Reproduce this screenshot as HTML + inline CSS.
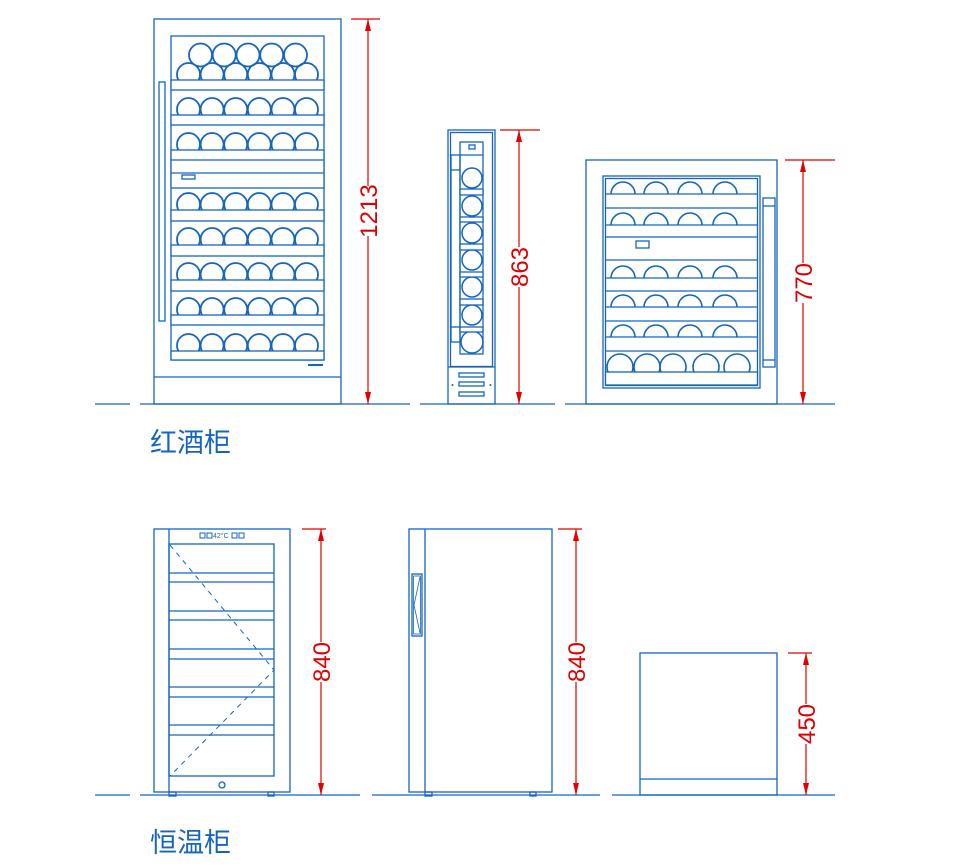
<!DOCTYPE html>
<html><head><meta charset="utf-8">
<style>
html,body{margin:0;padding:0;background:#fff;}
svg{display:block;}
.b{fill:none;stroke:#1565c0;stroke-width:1.3;}
.w{fill:#fff;stroke:#1565c0;stroke-width:1.3;}
.r{fill:none;stroke:#e00000;stroke-width:1.2;}
.a{fill:#e00000;}
.dt{fill:#e00000;font-family:"Liberation Sans",sans-serif;font-size:24px;}
.lb{fill:#1565c0;font-family:"Liberation Sans","Noto Sans CJK SC",sans-serif;font-size:27px;}
</style></head><body>
<svg width="953" height="868" viewBox="0 0 953 868" xmlns="http://www.w3.org/2000/svg">
<defs>
<g id="row6" class="b" style="stroke-width:1.8">
<circle cx="188.5" cy="0" r="11.5"/><circle cx="212.1" cy="0" r="11.5"/><circle cx="235.7" cy="0" r="11.5"/><circle cx="259.3" cy="0" r="11.5"/><circle cx="283" cy="0" r="11.5"/><circle cx="306.5" cy="0" r="11.5"/>
</g>
<g id="arch4" class="b" style="stroke-width:1.6">
<path d="M611 0 A12 12 0 0 1 635 0 M644 0 A12 12 0 0 1 668 0 M678 0 A12 12 0 0 1 702 0 M713 0 A12 12 0 0 1 737 0"/>
</g>
</defs>

<!-- ground lines -->
<g stroke="#1565c0" stroke-width="1.3">
<line x1="95" y1="404" x2="130" y2="404"/><line x1="140" y1="404" x2="410" y2="404"/><line x1="420" y1="404" x2="555" y2="404"/><line x1="565" y1="404" x2="835" y2="404"/>
<line x1="95" y1="795" x2="130" y2="795"/><line x1="140" y1="795" x2="360" y2="795"/><line x1="372" y1="795" x2="600" y2="795"/><line x1="612" y1="795" x2="835" y2="795"/>
</g>

<!-- fridge 1 -->
<rect x="154" y="19" width="187" height="385" class="b"/>
<line x1="154" y1="377" x2="341" y2="377" class="b"/>
<rect x="159" y="82" width="6" height="239" class="b"/>
<rect x="171" y="36" width="153" height="324" class="b"/>
<use href="#row6" transform="translate(0,74.5)"/>
<g class="b" style="stroke-width:1.8">
<circle cx="200.5" cy="55" r="11.5"/><circle cx="224.2" cy="55" r="11.5"/><circle cx="248" cy="55" r="11.5"/><circle cx="271.7" cy="55" r="11.5"/><circle cx="295.5" cy="55" r="11.5"/>
</g>
<use href="#row6" transform="translate(0,109.5)"/>
<use href="#row6" transform="translate(0,144.5)"/>
<use href="#row6" transform="translate(0,204.5)"/>
<use href="#row6" transform="translate(0,239.5)"/>
<use href="#row6" transform="translate(0,274.5)"/>
<use href="#row6" transform="translate(0,309.5)"/>
<use href="#row6" transform="translate(0,345.5)"/>
<rect x="171" y="80" width="153" height="10" class="w"/>
<rect x="171" y="115" width="153" height="10" class="w"/>
<rect x="171" y="150" width="153" height="38" class="w"/>
<line x1="171" y1="160" x2="324" y2="160" class="b"/>
<line x1="171" y1="173" x2="324" y2="173" class="b"/>
<rect x="182" y="175" width="13" height="4" class="b"/>
<rect x="171" y="210" width="153" height="11" class="w"/>
<rect x="171" y="245" width="153" height="11" class="w"/>
<rect x="171" y="280" width="153" height="11" class="w"/>
<rect x="171" y="315" width="153" height="10" class="w"/>
<rect x="171" y="351" width="153" height="9" class="w"/>
<line x1="308" y1="365" x2="323" y2="365" stroke="#1565c0" stroke-width="2"/>

<!-- dim 1 -->
<line x1="351" y1="19" x2="380" y2="19" class="r"/>
<line x1="368" y1="19" x2="368" y2="404" class="r"/>
<polygon class="a" points="368,19 365,31 371,31"/><polygon class="a" points="368,404 365,392 371,392"/>
<rect x="358" y="186" width="20" height="50" fill="#fff"/>
<text class="dt" transform="translate(377,211) rotate(-90)" text-anchor="middle">1213</text>

<!-- fridge 2 -->
<rect x="448" y="130" width="47" height="274" class="b"/>
<rect x="450.5" y="132.5" width="42" height="234" class="b"/>
<line x1="448" y1="367" x2="495" y2="367" class="b"/>
<rect x="451" y="155" width="9" height="187" class="b"/>
<line x1="451" y1="170" x2="460" y2="170" class="b"/>
<line x1="451" y1="327" x2="460" y2="327" class="b"/>
<rect x="460" y="142" width="23" height="212" class="b"/>
<line x1="460" y1="155" x2="483" y2="155" class="b"/>
<rect x="469" y="145" width="6" height="4" class="b"/>
<g class="b" style="stroke-width:1.5">
<circle cx="472" cy="178" r="10"/><circle cx="472" cy="206" r="10"/><circle cx="472" cy="233" r="10"/><circle cx="472" cy="260" r="10"/><circle cx="472" cy="287" r="10"/><circle cx="472" cy="315" r="10"/><circle cx="472" cy="342" r="11"/>
</g>
<rect x="460" y="189" width="23" height="6" class="w"/>
<rect x="460" y="217" width="23" height="5" class="w"/>
<rect x="460" y="244" width="23" height="6" class="w"/>
<rect x="460" y="272" width="23" height="5" class="w"/>
<rect x="460" y="299" width="23" height="6" class="w"/>
<rect x="460" y="327" width="23" height="5" class="w"/>
<rect x="459" y="373" width="25" height="4" class="b"/>
<rect x="459" y="382" width="25" height="4" class="b"/>
<rect x="459" y="392" width="25" height="4" class="b"/>
<circle cx="452.5" cy="385" r="1" fill="#1565c0"/><circle cx="490.5" cy="385" r="1" fill="#1565c0"/>

<!-- dim 2 -->
<line x1="500" y1="130" x2="540" y2="130" class="r"/>
<line x1="519" y1="130" x2="519" y2="404" class="r"/>
<polygon class="a" points="519,130 516,142 522,142"/><polygon class="a" points="519,404 516,392 522,392"/>
<rect x="509" y="247" width="20" height="40" fill="#fff"/>
<text class="dt" transform="translate(528,267) rotate(-90)" text-anchor="middle">863</text>

<!-- fridge 3 -->
<rect x="586" y="160" width="191" height="244" class="b"/>
<rect x="603" y="176" width="157" height="212" class="b"/>
<rect x="605.5" y="178.5" width="152" height="207" class="b"/>
<use href="#arch4" transform="translate(0,194)"/>
<use href="#arch4" transform="translate(0,225)"/>
<use href="#arch4" transform="translate(0,278)"/>
<use href="#arch4" transform="translate(0,307)"/>
<use href="#arch4" transform="translate(0,337)"/>
<g class="b" style="stroke-width:1.6">
<circle cx="620" cy="367" r="13"/><circle cx="647" cy="367" r="13"/><circle cx="673" cy="367" r="13"/><circle cx="706" cy="367" r="13"/><circle cx="737" cy="367" r="13"/>
</g>
<g class="b">
<line x1="605" y1="194" x2="758" y2="194"/><line x1="605" y1="208" x2="758" y2="208"/>
<line x1="605" y1="225" x2="758" y2="225"/><line x1="605" y1="237" x2="758" y2="237"/>
<line x1="605" y1="260" x2="758" y2="260"/><line x1="605" y1="278" x2="758" y2="278"/>
<line x1="605" y1="291" x2="758" y2="291"/><line x1="605" y1="307" x2="758" y2="307"/>
<line x1="605" y1="321" x2="758" y2="321"/><line x1="605" y1="337" x2="758" y2="337"/>
<line x1="605" y1="351" x2="758" y2="351"/>
</g>
<rect x="605.5" y="372" width="152" height="13" fill="#fff" stroke="#1565c0" stroke-width="1.3"/>
<rect x="636" y="241" width="13" height="7" class="b"/>
<rect x="763" y="198" width="12" height="169" class="b"/>
<line x1="763" y1="206" x2="775" y2="206" class="b"/>
<line x1="763" y1="360" x2="775" y2="360" class="b"/>

<!-- dim 3 -->
<line x1="785" y1="160" x2="835" y2="160" class="r"/>
<line x1="803" y1="160" x2="803" y2="404" class="r"/>
<polygon class="a" points="803,160 800,172 806,172"/><polygon class="a" points="803,404 800,392 806,392"/>
<rect x="793" y="263" width="20" height="40" fill="#fff"/>
<text class="dt" transform="translate(812,283) rotate(-90)" text-anchor="middle">770</text>

<text class="lb" x="150" y="452">红酒柜</text>

<!-- fridge 4 -->
<rect x="154" y="529" width="136" height="263" class="b"/>
<line x1="169" y1="529" x2="169" y2="792" class="b"/>
<rect x="169" y="544" width="105" height="232" class="b"/>
<g class="b">
<line x1="169" y1="573" x2="274" y2="573"/><line x1="169" y1="582" x2="274" y2="582"/>
<line x1="169" y1="611" x2="274" y2="611"/><line x1="169" y1="620" x2="274" y2="620"/>
<line x1="169" y1="649" x2="274" y2="649"/><line x1="169" y1="659" x2="274" y2="659"/>
<line x1="169" y1="687" x2="274" y2="687"/><line x1="169" y1="697" x2="274" y2="697"/>
<line x1="169" y1="725" x2="274" y2="725"/><line x1="169" y1="735" x2="274" y2="735"/>
</g>
<polyline points="170,545 274,670 170,776" fill="none" stroke="#1565c0" stroke-width="1" stroke-dasharray="5,5"/>
<g class="b" style="stroke-width:1">
<rect x="200" y="533" width="5" height="5"/><rect x="207" y="533" width="5" height="5"/>
<rect x="232" y="533" width="5" height="5"/><rect x="239" y="533" width="5" height="5"/>
</g>
<text x="213" y="538" fill="#1565c0" font-family="Liberation Sans,sans-serif" font-size="7">42°C</text>
<circle cx="222" cy="785" r="3" class="b"/>
<rect x="169" y="792" width="7" height="4" class="b"/>
<rect x="268" y="792" width="6" height="4" class="b"/>

<!-- dim 4 -->
<line x1="302" y1="529" x2="326" y2="529" class="r"/>
<line x1="321" y1="529" x2="321" y2="795" class="r"/>
<polygon class="a" points="321,529 318,541 324,541"/><polygon class="a" points="321,795 318,783 324,783"/>
<rect x="311" y="642" width="20" height="40" fill="#fff"/>
<text class="dt" transform="translate(330,662) rotate(-90)" text-anchor="middle">840</text>

<!-- fridge 5 -->
<rect x="409" y="529" width="143" height="263" class="b"/>
<line x1="425" y1="529" x2="425" y2="792" class="b"/>
<rect x="412" y="574" width="10" height="62" class="b"/>
<rect x="413.5" y="576" width="7" height="58" class="b" style="stroke-width:0.8"/>
<polyline points="420,577 414,605 420,633" fill="none" stroke="#1565c0" stroke-width="0.8"/>
<rect x="425" y="792" width="7" height="4" class="b"/>
<rect x="530" y="792" width="6" height="4" class="b"/>

<!-- dim 5 -->
<line x1="558" y1="529" x2="582" y2="529" class="r"/>
<line x1="576" y1="529" x2="576" y2="795" class="r"/>
<polygon class="a" points="576,529 573,541 579,541"/><polygon class="a" points="576,795 573,783 579,783"/>
<rect x="566" y="642" width="20" height="40" fill="#fff"/>
<text class="dt" transform="translate(585,662) rotate(-90)" text-anchor="middle">840</text>

<!-- fridge 6 -->
<rect x="640" y="653" width="137" height="142" class="b"/>
<line x1="640" y1="779" x2="777" y2="779" class="b"/>

<!-- dim 6 -->
<line x1="788" y1="653" x2="812" y2="653" class="r"/>
<line x1="806" y1="653" x2="806" y2="795" class="r"/>
<polygon class="a" points="806,653 803,665 809,665"/><polygon class="a" points="806,795 803,783 809,783"/>
<rect x="796" y="704" width="20" height="40" fill="#fff"/>
<text class="dt" transform="translate(815,724) rotate(-90)" text-anchor="middle">450</text>

<text class="lb" x="150" y="852">恒温柜</text>
</svg>
</body></html>
